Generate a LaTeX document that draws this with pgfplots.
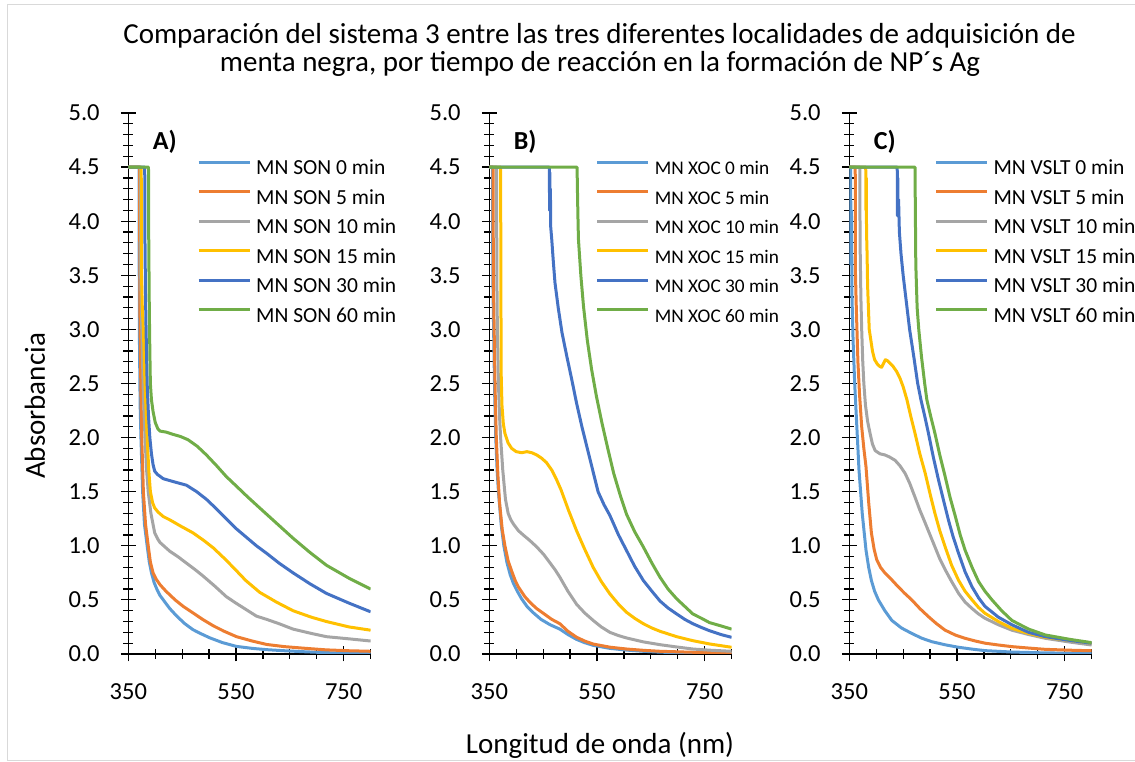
\documentclass[border=0pt]{standalone}
\usepackage{fontspec}
\setmainfont{Carlito}
\usepackage{pgfplots}
\pgfplotsset{compat=1.18}

\definecolor{cA}{HTML}{5B9BD5}
\definecolor{cB}{HTML}{ED7D31}
\definecolor{cC}{HTML}{A5A5A5}
\definecolor{cD}{HTML}{FFC000}
\definecolor{cE}{HTML}{4472C4}
\definecolor{cF}{HTML}{70AD47}
\definecolor{frame}{HTML}{D9D9D9}

\tikzset{tag/.style={anchor=base west, font=\bfseries\fontsize{26}{31}\selectfont}}

\pgfplotsset{
  panel/.style={
    scale only axis, width=242.3pt, height=541pt,
    xmin=350, xmax=800, ymin=0, ymax=5,
    axis x line=bottom, axis y line=left,
    axis line style={-, black, line width=1.2pt},
    every tick/.style={black, line width=1.2pt},
    tick align=center,
    major tick length=15pt, minor tick length=10pt,
    xtick={350,550,750}, minor xtick={400,450,500,600,650,700,800},
    ytick={0,0.5,1,1.5,2,2.5,3,3.5,4,4.5,5}, minor y tick num=4,
    scaled ticks=false,
    tick label style={font=\fontsize{24.5}{29}\selectfont},
    /pgf/number format/assume math mode=true,
    yticklabel style={anchor=east, inner sep=0pt, xshift=-21pt,
      /pgf/number format/.cd, fixed, fixed zerofill, precision=1},
    xticklabel style={anchor=north, inner sep=0pt, yshift=-22pt},
    legend cell align=left,
    legend image code/.code={\draw[#1] (0pt,7pt) -- (51pt,7pt);},
    legend style={draw=none, fill=none, inner sep=0pt, anchor=north west,
      font=\fontsize{21.5}{26}\selectfont,
      nodes={inner sep=0pt, text height=15pt, text depth=4.5pt},
      row sep=10pt,
      /tikz/every odd column/.append style={column sep=5pt}},
    every axis plot/.append style={line width=3pt, line join=round},
  },
  s0/.style={cA}, s5/.style={cB}, s10/.style={cC},
  s15/.style={cD}, s30/.style={cE}, s60/.style={cF},
}

\begin{document}
\begin{tikzpicture}

\draw[frame, line width=1pt] (7pt,1pt) rectangle (1150pt,757pt);

% A) SON
\begin{axis}[panel, at={(128.3pt,108pt)},
  legend style={at={(axis cs:477.6,4.57)}}]
\addplot[s0] coordinates {(350,4.5) (370,4.5) (370.5,3.0) (372,2.3) (373.5,2.0) (376.6,1.5) (380,1.2) (385,1.0) (389,0.85) (393,0.75) (398,0.66) (403,0.6) (409,0.54) (415,0.5) (427,0.42) (440,0.35) (455,0.28) (470,0.225) (486,0.185) (501,0.15) (525,0.105) (551,0.07) (580,0.052) (607,0.04) (640,0.03) (680,0.02) (720,0.012) (760,0.007) (800,0.004)};
\addplot[s5] coordinates {(350,4.5) (371,4.5) (371.5,3.2) (372,3.0) (373.5,2.4) (375,2.0) (378,1.5) (382,1.2) (387,1.0) (391,0.85) (396,0.75) (402,0.69) (409,0.64) (420,0.58) (437,0.5) (452,0.44) (470,0.38) (488,0.32) (508,0.26) (528,0.21) (551,0.16) (580,0.12) (607,0.088) (640,0.068) (680,0.052) (718,0.038) (760,0.03) (800,0.025)};
\addplot[s10] coordinates {(350,4.5) (372.5,4.5) (373,3.5) (375,3.0) (378,2.4) (381,2.0) (384,1.7) (387,1.5) (392,1.3) (399,1.12) (405,1.06) (409,1.03) (418,0.99) (427,0.95) (442,0.9) (458,0.84) (474,0.78) (489,0.72) (510,0.63) (532,0.53) (550,0.47) (569,0.41) (588,0.35) (607,0.32) (630,0.28) (656,0.23) (690,0.19) (718,0.16) (760,0.14) (800,0.12)};
\addplot[s15] coordinates {(350,4.5) (374,4.5) (374.5,3.5) (376,3.2) (378,3.0) (381,2.5) (385,2.0) (388,1.7) (391,1.5) (395,1.4) (399,1.35) (405.6,1.31) (415,1.27) (427,1.24) (448,1.18) (470,1.12) (490,1.05) (508,0.98) (527,0.89) (545,0.8) (568,0.68) (594,0.57) (625,0.48) (656,0.4) (690,0.34) (718,0.3) (760,0.25) (800,0.22)};
\addplot[s30] coordinates {(350,4.5) (380.5,4.5) (381,3.8) (382,3.3) (383,3.0) (385,2.5) (387.5,2.2) (390,2.0) (393,1.85) (396,1.75) (399,1.69) (404,1.66) (415,1.62) (436,1.59) (458,1.56) (477,1.5) (495,1.43) (514,1.34) (532,1.25) (550,1.16) (569,1.08) (588,1.0) (607,0.93) (630,0.84) (656,0.75) (687,0.65) (718,0.56) (760,0.47) (800,0.39)};
\addplot[s60] coordinates {(350,4.5) (387.5,4.5) (388,3.8) (389,3.2) (390,2.8) (391,2.5) (393,2.35) (396,2.24) (400,2.14) (405,2.08) (409,2.06) (421,2.05) (433,2.03) (447,2.01) (461,1.98) (478,1.92) (495,1.84) (514,1.74) (532,1.64) (551,1.55) (572,1.45) (594,1.35) (625,1.21) (656,1.07) (687,0.94) (718,0.82) (760,0.7) (800,0.6)};
\legend{MN SON 0 min, MN SON 5 min, MN SON 10 min, MN SON 15 min, MN SON 30 min, MN SON 60 min}
\node[tag] at (axis cs:389,4.66) {A)};
\end{axis}

% B) XOC
\begin{axis}[panel, at={(489.3pt,108pt)},
  legend style={at={(axis cs:547.6,4.57)}, font=\fontsize{19.3}{24}\selectfont}]
\addplot[s0] coordinates {(350,4.5) (356,4.5) (356.5,3.5) (358,3.0) (360,2.4) (362,2.0) (364.5,1.7) (367,1.5) (372,1.2) (377,1.0) (383,0.84) (389,0.73) (395,0.65) (402,0.58) (410,0.51) (420,0.44) (432,0.38) (446,0.32) (463,0.27) (481,0.23) (496,0.18) (512,0.135) (527,0.105) (543,0.08) (574,0.052) (605,0.036) (636,0.025) (667,0.017) (728,0.009) (800,0.004)};
\addplot[s5] coordinates {(350,4.5) (357,4.5) (357.5,3.5) (359,3.0) (361,2.4) (363,2.0) (366,1.65) (369,1.4) (374,1.15) (379,1.0) (385,0.86) (392,0.76) (398,0.68) (404,0.62) (416,0.53) (427,0.47) (438,0.42) (452,0.37) (466,0.32) (481,0.28) (496,0.21) (512,0.155) (527,0.12) (543,0.092) (574,0.063) (605,0.046) (636,0.034) (667,0.025) (728,0.016) (800,0.01)};
\addplot[s10] coordinates {(350,4.5) (363.5,4.5) (364,3.5) (365,3.0) (367,2.5) (369,2.2) (371,2.0) (375,1.7) (380,1.43) (385,1.3) (390,1.24) (395,1.2) (404,1.14) (413,1.1) (425,1.05) (438,0.99) (451,0.92) (463,0.84) (472,0.78) (481,0.71) (496,0.58) (512,0.46) (527,0.38) (543,0.31) (558,0.25) (574,0.2) (590,0.17) (605,0.148) (636,0.112) (667,0.086) (698,0.065) (728,0.046) (760,0.035) (800,0.025)};
\addplot[s15] coordinates {(350,4.5) (371,4.5) (371.5,3.5) (372,2.6) (373.5,2.3) (376,2.13) (379,2.04) (385,1.95) (391.6,1.9) (400,1.87) (410,1.86) (420,1.87) (429,1.86) (438,1.84) (447,1.81) (456,1.77) (466,1.7) (475,1.61) (483,1.52) (497,1.33) (512,1.14) (527,0.97) (543,0.8) (558,0.67) (574,0.555) (590,0.46) (605,0.385) (620,0.33) (636,0.28) (652,0.24) (667,0.21) (698,0.16) (728,0.123) (760,0.092) (800,0.062)};
\addplot[s30] coordinates {(350,4.5) (461.5,4.5) (462,4.1) (462.5,4.45) (463,4.12) (463.5,4.3) (464,3.95) (466,3.83) (469,3.62) (472,3.43) (478,3.2) (485,2.97) (494,2.75) (503,2.54) (512,2.32) (522,2.1) (531,1.92) (540,1.74) (552,1.5) (563,1.38) (574,1.28) (590,1.1) (605,0.955) (620,0.81) (636,0.68) (652,0.58) (667,0.49) (682,0.425) (698,0.37) (713,0.32) (728,0.28) (744,0.245) (759,0.215) (780,0.18) (800,0.154)};
\addplot[s60] coordinates {(350,4.5) (513,4.5) (514,4.2) (515,3.95) (515.6,3.83) (520,3.5) (525,3.21) (532,2.9) (540,2.63) (549,2.38) (559,2.14) (570,1.9) (581,1.67) (593,1.47) (605,1.29) (620,1.13) (636,0.99) (652,0.84) (667,0.71) (682,0.6) (698,0.51) (713,0.44) (728,0.37) (744,0.33) (759,0.29) (780,0.26) (800,0.23)};
\legend{MN XOC 0 min, MN XOC 5 min, MN XOC 10 min, MN XOC 15 min, MN XOC 30 min, MN XOC 60 min}
\node[tag] at (axis cs:389,4.66) {B)};
\end{axis}

% C) VSLT
\begin{axis}[panel, at={(849.3pt,108pt)},
  legend style={at={(axis cs:507.9,4.57)}}]
\addplot[s0] coordinates {(350,4.5) (352.5,4.5) (353,3.6) (354,4.1) (355,3.3) (357,2.9) (360,2.5) (364,2.1) (368,1.7) (374,1.3) (381,0.96) (386,0.8) (391,0.68) (397,0.58) (404,0.5) (416,0.4) (429,0.31) (447,0.24) (466,0.19) (485,0.145) (503,0.114) (528,0.085) (553,0.062) (578,0.045) (602,0.031) (652,0.018) (714,0.01) (800,0.006)};
\addplot[s5] coordinates {(350,4.5) (361,4.5) (361.5,3.5) (363,3.2) (366,2.7) (369,2.4) (373,2.1) (377,1.9) (381,1.73) (386,1.4) (391,1.12) (396,0.97) (401,0.87) (408,0.8) (416,0.75) (428,0.69) (441,0.62) (453,0.56) (466,0.5) (481,0.42) (497,0.345) (512,0.28) (528,0.22) (547,0.175) (565,0.145) (584,0.12) (602,0.1) (627,0.083) (652,0.068) (683,0.055) (714,0.043) (760,0.035) (800,0.03)};
\addplot[s10] coordinates {(350,4.5) (369.5,4.5) (370,3.8) (371.5,3.3) (373,3.0) (375,2.7) (377,2.5) (380,2.3) (384,2.15) (388.5,2.04) (393,1.94) (398,1.88) (407,1.85) (416,1.84) (425,1.82) (435,1.79) (444,1.74) (453.6,1.67) (462,1.58) (472,1.45) (481,1.33) (491,1.21) (500,1.1) (509,0.99) (518,0.88) (528,0.78) (540,0.67) (553,0.56) (565,0.48) (578,0.42) (590,0.37) (602,0.33) (627,0.27) (652,0.22) (683,0.18) (714,0.145) (760,0.11) (800,0.083)};
\addplot[s15] coordinates {(350,4.5) (380.5,4.5) (381,4.1) (381.5,4.4) (382,3.9) (383,3.7) (384,3.4) (385.5,3.2) (387,3.0) (390,2.9) (393,2.8) (397,2.72) (402,2.68) (406,2.66) (410,2.65) (414,2.69) (417,2.72) (421,2.71) (425,2.69) (431,2.66) (438,2.61) (444,2.55) (450,2.47) (457,2.35) (464,2.2) (472,2.04) (481,1.85) (491,1.67) (500,1.48) (509,1.3) (518,1.14) (528,0.99) (540,0.82) (553,0.68) (565,0.58) (578,0.5) (590,0.43) (602,0.376) (627,0.3) (652,0.237) (683,0.19) (714,0.154) (760,0.125) (800,0.1)};
\addplot[s30] coordinates {(350,4.5) (439,4.5) (439.5,4.05) (440,4.4) (440.5,4.1) (441.5,4.2) (443,3.9) (446,3.7) (450,3.5) (456,3.25) (462,3.0) (470,2.74) (477,2.5) (483,2.35) (490,2.2) (497,2.04) (506,1.82) (515.6,1.61) (525,1.42) (534,1.24) (543,1.08) (553,0.93) (565,0.76) (578,0.62) (590,0.52) (602,0.44) (627,0.34) (652,0.27) (683,0.2) (714,0.16) (760,0.125) (800,0.1)};
\addplot[s60] coordinates {(350,4.5) (472,4.5) (472.5,4.2) (473.5,3.6) (476,3.2) (479,3.0) (484,2.75) (490,2.5) (494,2.35) (501,2.2) (509,2.04) (518,1.84) (528,1.64) (537,1.45) (547,1.27) (556,1.1) (565,0.96) (578,0.8) (590,0.67) (602,0.58) (615,0.5) (633,0.4) (652,0.31) (683,0.23) (714,0.176) (760,0.135) (800,0.105)};
\legend{MN VSLT 0 min, MN VSLT 5 min, MN VSLT 10 min, MN VSLT 15 min, MN VSLT 30 min, MN VSLT 60 min}
\node[tag] at (axis cs:389,4.66) {C)};
\end{axis}

\node[anchor=base, font=\fontsize{29}{35}\selectfont] at (599.5pt,718.7pt)
  {Comparación del sistema 3 entre las tres diferentes localidades de adquisición de};
\node[anchor=base, font=\fontsize{29}{35}\selectfont] at (600pt,690.3pt)
  {menta negra, por tiempo de reacción en la formación de NP´s Ag};
\node[rotate=90, font=\fontsize{29}{35}\selectfont] at (35pt,356pt) {Absorbancia};
\node[anchor=base, font=\fontsize{29}{35}\selectfont] at (600pt,8pt) {Longitud de onda (nm)};

\pgfresetboundingbox
\path[use as bounding box] (0pt,0pt) rectangle (1135pt,762pt);
\end{tikzpicture}
\end{document}
